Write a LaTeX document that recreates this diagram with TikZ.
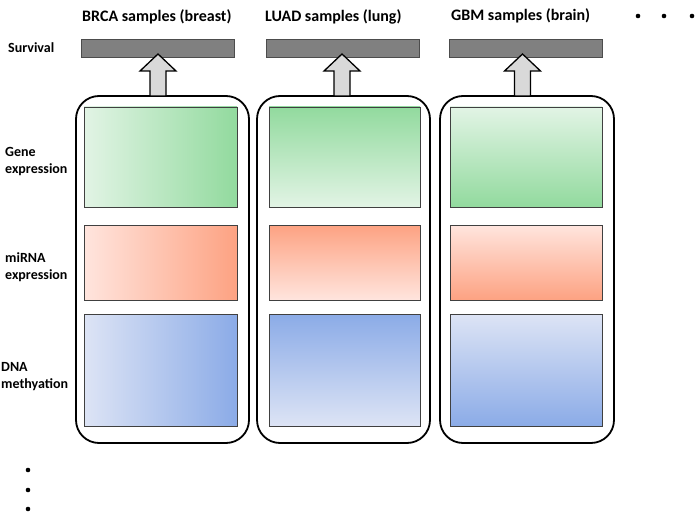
\documentclass[tikz,border=0pt]{standalone}
\usepackage{fontspec}
\setmainfont{Carlito}
\usetikzlibrary{calc,shadows}

\definecolor{gdark}{RGB}{146,218,158}
\definecolor{glight}{RGB}{226,244,229}
\definecolor{rdark}{RGB}{253,162,130}
\definecolor{rlight}{RGB}{255,229,222}
\definecolor{bdark}{RGB}{139,171,231}
\definecolor{blight}{RGB}{221,228,245}
\definecolor{barfill}{RGB}{128,128,128}
\definecolor{arrowfill}{RGB}{217,217,217}

\tikzset{
  header/.style={font=\fontsize{16}{18}\selectfont\bfseries, anchor=west, inner sep=0pt},
  rowlabel/.style={font=\fontsize{14}{17}\selectfont\bfseries, anchor=west, align=left, inner sep=0pt},
  survbar/.style={draw=black!70, line width=0.8pt, fill=barfill, anchor=north west,
    minimum width=153, minimum height=18, inner sep=0pt, outer sep=0pt,
    drop shadow={shadow xshift=1.2pt, shadow yshift=-1.2pt, opacity=0.25}},
  cohort/.style={draw=black, line width=1.8pt, rounded corners=23, anchor=north west,
    inner sep=0pt, outer sep=0pt},
  omics/.style={draw=black!75, line width=0.8pt, anchor=north west, inner sep=0pt, outer sep=0pt,
    drop shadow={shadow xshift=1.2pt, shadow yshift=-1.2pt, opacity=0.25}},
  blockarrow/.style={draw=black, line width=1.3pt, fill=arrowfill, line join=miter},
  dot/.style={fill=black, circle, inner sep=0pt, minimum size=4.6}
}

% hollow up-pointing block arrow from a box top (#2) to just below a bar (#1)
\newcommand\liftarrow[2]{%
  \draw[blockarrow] let \p1=(#1), \p2=(#2) in
    (\x1,\y1) -- (\x1+18pt,\y1-17pt) -- (\x1+8pt,\y1-17pt) -- (\x1+8pt,\y2)
    -- (\x1-8pt,\y2) -- (\x1-8pt,\y1-17pt) -- (\x1-18pt,\y1-17pt) -- cycle;}

\begin{document}
\begin{tikzpicture}[x=1pt,y=-1pt]
\useasboundingbox (0,0) rectangle (698,513);

% column headers
\node[header] (hBRCA) at (82,17) {BRCA samples (breast)};
\node[header] (hLUAD) at (265,17) {LUAD samples (lung)};
\node[header] (hGBM)  at (451,16) {GBM samples (brain)};
\node[dot] (hd1) at (638,16) {};
\node[dot] (hd2) at (664,16) {};
\node[dot] (hd3) at (692,16) {};

% row labels
\node[rowlabel] (lSurv) at (8,48) {Survival};
\node[rowlabel] (lGene) at (5,162) {Gene\\expression};
\node[rowlabel] (lMir)  at (5,267) {miRNA\\expression};
\node[rowlabel] (lDNA)  at (1,377) {DNA\\methyation};

% survival bars
\node[survbar] (sBRCA) at (81,39) {};
\node[survbar] (sLUAD) at (266,39) {};
\node[survbar] (sGBM)  at (449,39) {};

% cohort containers
\node[cohort, minimum width=173, minimum height=347] (cBRCA) at (76,96) {};
\node[cohort, minimum width=173, minimum height=347] (cLUAD) at (257,96) {};
\node[cohort, minimum width=174, minimum height=347] (cGBM)  at (440,96) {};

% BRCA: horizontal gradients
\node[omics, minimum width=153, minimum height=100, left color=glight, right color=gdark] (gBRCA) at (84,107) {};
\node[omics, minimum width=153, minimum height=75, left color=rlight, right color=rdark] (mBRCA) at (84,225) {};
\node[omics, minimum width=153, minimum height=112, left color=blight, right color=bdark] (dBRCA) at (84,314) {};

% LUAD: dark at the top
\node[omics, minimum width=151, minimum height=100, top color=gdark, bottom color=glight] (gLUAD) at (269,107) {};
\node[omics, minimum width=151, minimum height=75, top color=rdark, bottom color=rlight] (mLUAD) at (269,225) {};
\node[omics, minimum width=151, minimum height=112, top color=bdark, bottom color=blight] (dLUAD) at (269,314) {};

% GBM: dark at the bottom
\node[omics, minimum width=152, minimum height=100, top color=glight, bottom color=gdark] (gGBM) at (450,107) {};
\node[omics, minimum width=152, minimum height=75, top color=rlight, bottom color=rdark] (mGBM) at (450,225) {};
\node[omics, minimum width=152, minimum height=112, top color=blight, bottom color=bdark] (dGBM) at (450,314) {};

% arrows from each cohort up to its survival bar
\coordinate (tBRCA) at ($(sBRCA.south)+(0.5,-3)$);
\coordinate (tLUAD) at ($(sLUAD.south)+(-0.5,-3)$);
\coordinate (tGBM)  at ($(sGBM.south)+(-3,-3)$);
\liftarrow{tBRCA}{cBRCA.north}
\liftarrow{tLUAD}{cLUAD.north}
\liftarrow{tGBM}{cGBM.north}

% more rows
\node[dot] (vd1) at (28,470) {};
\node[dot] (vd2) at (28,490) {};
\node[dot] (vd3) at (28,509) {};
\end{tikzpicture}
\end{document}
